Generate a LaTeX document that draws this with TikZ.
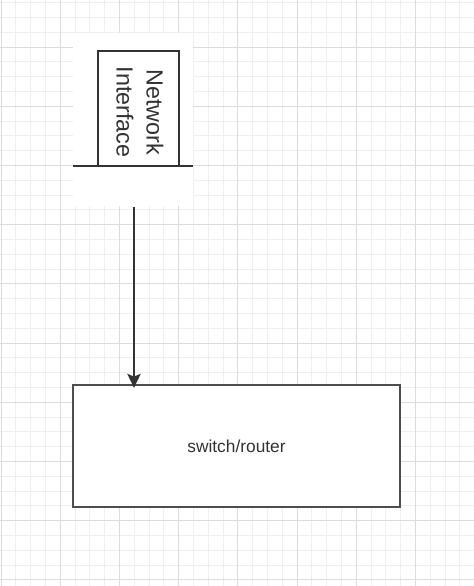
\documentclass[tikz,border=0pt]{standalone}
\usepackage{fontspec}
\setmainfont{Liberation Sans}
\usetikzlibrary{arrows.meta}
\definecolor{gridmajor}{HTML}{DCDCDC}
\definecolor{gridminor}{HTML}{EFEFEF}
\definecolor{strokedark}{HTML}{333333}
\definecolor{strokebox}{HTML}{4D4D4D}
\tikzset{
  minorgrid/.style={draw=gridminor,line width=0.6pt},
  majorgrid/.style={draw=gridmajor,line width=0.75pt},
  ifacebox/.style={draw=strokedark,line width=1.7pt,fill=white,minimum width=60.75pt,minimum height=86.25pt,inner sep=0pt},
  switchbox/.style={draw=strokebox,line width=1.7pt,fill=white,minimum width=245.25pt,minimum height=91.5pt,inner sep=0pt,font=\fontsize{13pt}{15pt}\selectfont,text=strokedark},
  ifacetext/.style={rotate=-90,align=center,font=\fontsize{17.5pt}{22.5pt}\selectfont,text=strokedark,inner sep=0pt},
  baseline/.style={draw=strokedark,line width=2pt},
  link/.style={draw=strokedark,line width=1.3pt,-{Stealth[length=10.5pt,width=10pt,inset=2pt]}}
}
\begin{document}
\begin{tikzpicture}[x=0.75pt,y=-0.75pt]
\useasboundingbox (0,0) rectangle (474,586);
\fill[white] (0,0) rectangle (474,586);
% minor grid
\foreach \i in {-4,...,40} {
  \draw[minorgrid] ({1+\i*14.8},0) -- ({1+\i*14.8},586);
}
\foreach \i in {-4,...,44} {
  \draw[minorgrid] (0,{-12.2+\i*14.8}) -- (474,{-12.2+\i*14.8});
}
% major grid
\foreach \i in {0,...,8} {
  \draw[majorgrid] ({1+\i*59.2},0) -- ({1+\i*59.2},586);
}
\foreach \i in {0,...,11} {
  \draw[majorgrid] (0,{-12.2+\i*59.2}) -- (474,{-12.2+\i*59.2});
}
% white area behind the interface symbol
\fill[white] (73,33) rectangle (193,206);
% network interface
\node[ifacebox] (ni) at (138.5,108.5) {};
\node[ifacetext] (nilabel) at (140,112) {Network\\Interface};
\coordinate (baseL) at (73,166);
\coordinate (baseR) at (193,166);
\draw[baseline] (baseL) -- (baseR);
% switch/router
\node[switchbox] (sw) at (236.5,446) {switch/router};
% connector
\coordinate (linkstart) at (134,207);
\draw[link] (linkstart) -- ([yshift=-3pt]linkstart |- sw.north);
\end{tikzpicture}
\end{document}
